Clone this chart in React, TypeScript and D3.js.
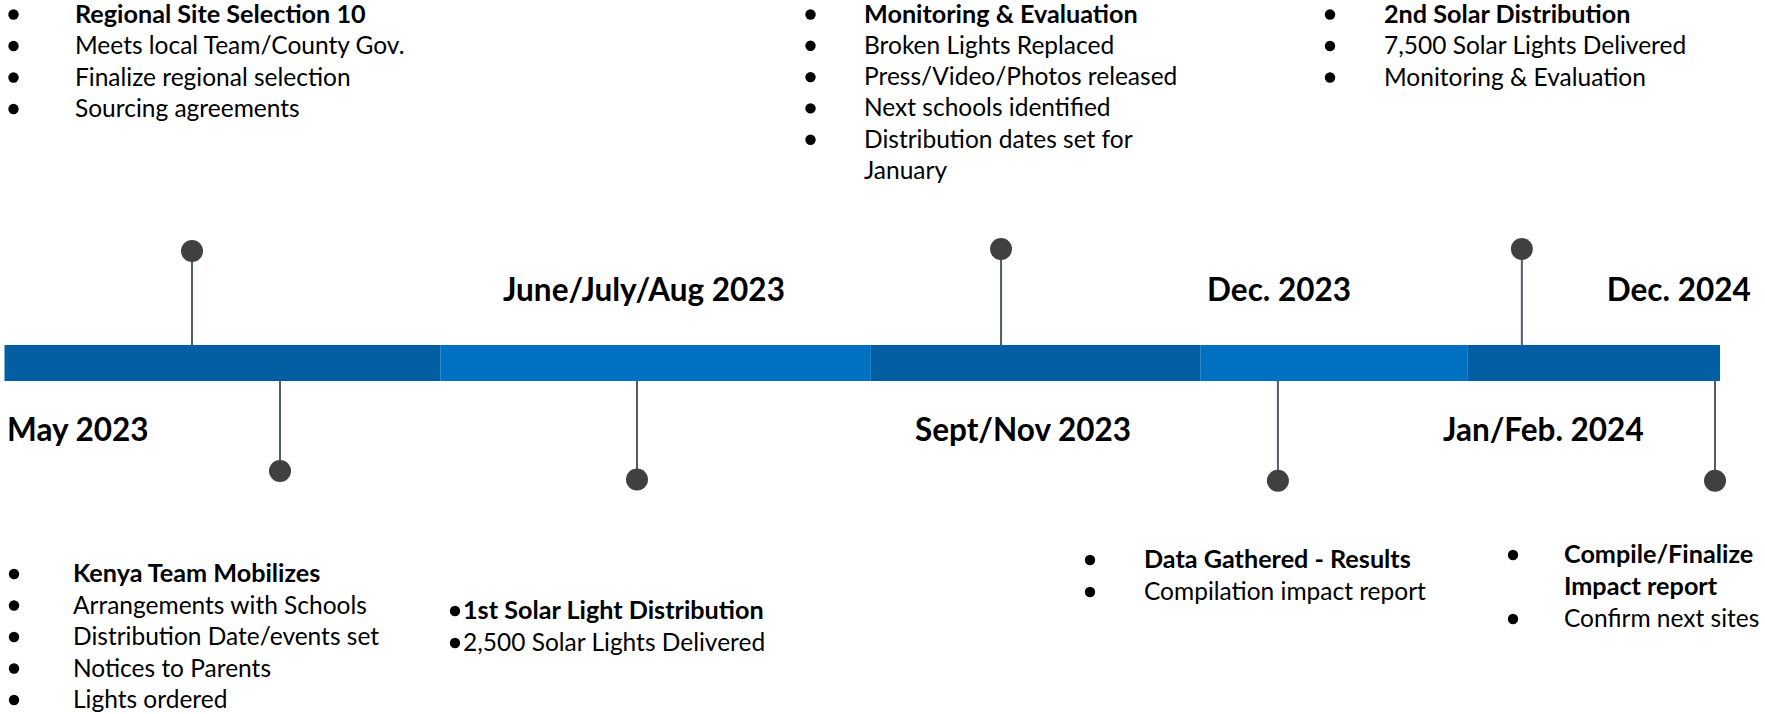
import React from 'react';
import * as d3 from 'd3';

const W = 1765;
const H = 714;

// bar segments along the timeline (fraction of bar length)
const segmentStart = [0, 0.254, 0.505, 0.697, 0.853];
const segmentEnd = [0.254, 0.505, 0.697, 0.853, 1];
const segmentShade = ['dark', 'light', 'dark', 'light', 'dark'];

// period labels
const periodLabels = ['May 2023', 'June/July/Aug 2023', 'Sept/Nov 2023', 'Dec. 2023', 'Jan/Feb. 2024', 'Dec. 2024'];
const periodAt = [0.0015, 0.2906, 0.5307, 0.701, 0.8385, 0.934];
const periodSide = ['below', 'above', 'below', 'above', 'below', 'above'];

// milestone pins
const pinAt = [0.1093, 0.1606, 0.3687, 0.5809, 0.7423, 0.8845, 0.9971];
const pinSide = ['up', 'down', 'down', 'up', 'down', 'up', 'down'];
const pinReach = [94, 90, 98.5, 96, 99.7, 96, 99.7];

// notes
const noteHeads = [
  'Regional Site Selection 10',
  'Monitoring & Evaluation',
  '2nd Solar Distribution',
  'Kenya Team Mobilizes',
  '1st Solar Light Distribution',
  'Data Gathered - Results',
  'Compile/Finalize\nImpact report',
];
const noteItems = [
  ['Meets local Team/County Gov.', 'Finalize regional selection', 'Sourcing agreements'],
  ['Broken Lights Replaced', 'Press/Video/Photos released', 'Next schools identified', 'Distribution dates set for\nJanuary'],
  ['7,500 Solar Lights Delivered', 'Monitoring & Evaluation'],
  ['Arrangements with Schools', 'Distribution Date/events set', 'Notices to Parents', 'Lights ordered'],
  ['2,500 Solar Lights Delivered'],
  ['Compilation impact report'],
  ['Confirm next sites'],
];

// layout of each note block: bullet x, text x, first baseline, line step
const noteBulletX = [13.5, 810.5, 1330, 14, 455, 1090, 1513];
const noteTextX = [75, 864, 1384, 73, 463, 1144, 1564];
const noteTop = [22.5, 22.5, 22.5, 582, 619, 568, 563];
const noteStep = [31.5, 31.3, 31.5, 31.5, 32, 32, 32];

const FONT = 'Lato, "Open Sans", sans-serif';
const DARK = '#035ea3';
const LIGHT = '#0071c1';

export default function App() {
  const x = d3.scaleLinear().domain([0, 1]).range([4.5, 1720]);
  const barTop = 345;
  const barBottom = 381;

  const notes = noteHeads.map((head, i) => {
    const rows: { text: string; bold: boolean; bullet: boolean }[] = [];
    head.split('\n').forEach((t, k) => rows.push({ text: t, bold: true, bullet: k === 0 }));
    noteItems[i].forEach(item =>
      item.split('\n').forEach((t, k) => rows.push({ text: t, bold: false, bullet: k === 0 }))
    );
    return rows;
  });

  return (
    <svg width={W} height={H} style={{ position: 'absolute', left: 0, top: 0, background: '#fff' }}
      fontFamily={FONT}>
      {segmentStart.map((s, i) => (
        <rect key={'seg' + i} x={x(s)} y={barTop} width={x(segmentEnd[i]) - x(s)} height={barBottom - barTop}
          fill={segmentShade[i] === 'dark' ? DARK : LIGHT} />
      ))}

      {pinAt.map((p, i) => {
        const up = pinSide[i] === 'up';
        const y0 = up ? barTop : barBottom;
        const y1 = up ? barTop - pinReach[i] : barBottom + pinReach[i];
        return (
          <g key={'pin' + i}>
            <line x1={x(p)} x2={x(p)} y1={y0} y2={y1} stroke="#4f5b6e" strokeWidth={2} />
            <circle cx={x(p)} cy={y1} r={11} fill="#404040" />
          </g>
        );
      })}

      {periodLabels.map((lab, i) => (
        <text key={'per' + i} x={x(periodAt[i])} y={periodSide[i] === 'above' ? barTop - 44 : barBottom + 60}
          fontSize={31.5} fontWeight={700} fill="#000">{lab}</text>
      ))}

      {notes.map((rows, i) => (
        <g key={'note' + i}>
          {rows.map((r, j) => {
            const yy = noteTop[i] + j * noteStep[i];
            return (
              <g key={j}>
                {r.bullet && <circle cx={noteBulletX[i]} cy={yy - 8} r={5.2} fill="#000" />}
                <text x={noteTextX[i]} y={yy} fontSize={r.bold ? 25.2 : 24.5} fontWeight={r.bold ? 700 : 400} fill="#000">{r.text}</text>
              </g>
            );
          })}
        </g>
      ))}
    </svg>
  );
}
